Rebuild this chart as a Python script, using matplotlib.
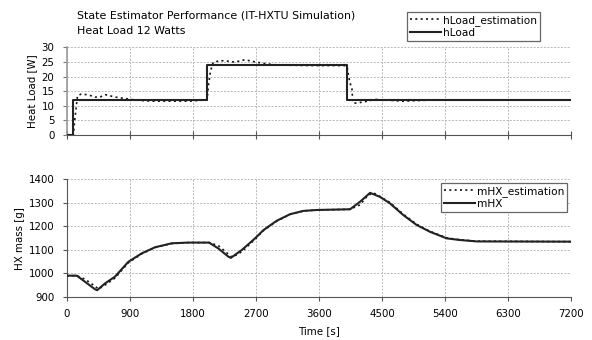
import matplotlib.pyplot as plt

# heat load (W) - step input and its estimate
t_load = [0, 90, 2000, 4000, 7200]
hload = [0, 12, 24, 12, 12]

t_load_est = [0, 90, 110, 150, 200, 300, 400, 470, 550, 690, 830, 970, 1200, 1750,
              1950, 2000, 2020, 2050, 2090, 2200, 2300, 2400, 2540, 2700, 2850, 3000,
              3500, 3980, 4000, 4020, 4040, 4070, 4080, 4090, 4150, 4250, 4400, 4550,
              4800, 5000, 5200, 7200]
hload_est = [0, 0, 5, 13.5, 14, 13.8, 13, 13, 13.8, 13, 12.5, 12, 11.6, 11.6,
             12, 12, 17, 22, 25, 25.5, 25.3, 25, 25.8, 25, 24.4, 24,
             23.8, 23.8, 23.6, 20.6, 18, 16, 12, 10.9, 11, 11.4, 12.2, 12,
             11.6, 11.8, 12, 12]

# HX mass (g)
t_m = [0, 140, 257, 400, 430, 543, 686, 876, 1067, 1257, 1495, 1733, 2030, 2162,
       2305, 2340, 2495, 2686, 2805, 2995, 3186, 3376, 3567, 4043, 4186, 4329,
       4471, 4614, 4805, 4995, 5186, 5424, 5614, 5852, 7200]
mhx = [990, 990, 964, 932, 928, 957, 986, 1049, 1085, 1111, 1128, 1131, 1131, 1106,
       1071, 1066, 1099, 1149, 1184, 1224, 1252, 1266, 1270, 1273, 1305, 1343,
       1326, 1298, 1248, 1206, 1177, 1149, 1142, 1136, 1135]

t_m_est = [0, 140, 257, 400, 450, 543, 686, 876, 1067, 1257, 1495, 1733, 2030, 2162,
           2305, 2360, 2495, 2686, 2805, 2995, 3186, 3376, 3567, 4043, 4186, 4300,
           4380, 4614, 4805, 4995, 5186, 5424, 5614, 5852, 7200]
mhx_est = [990, 990, 975, 945, 933, 950, 980, 1045, 1083, 1110, 1127, 1131, 1131, 1118,
           1082, 1068, 1092, 1145, 1182, 1222, 1251, 1266, 1270, 1273, 1292, 1333,
           1343, 1302, 1252, 1209, 1179, 1151, 1143, 1137, 1135]

xticks = [0, 900, 1800, 2700, 3600, 4500, 5400, 6300, 7200]

plt.rcParams['font.family'] = 'DejaVu Sans'
plt.rcParams['font.size'] = 7.4

fig = plt.figure(figsize=(5.92, 3.40), dpi=100)
ax1 = fig.add_axes([0.1132, 0.6029, 0.8514, 0.2574])
ax2 = fig.add_axes([0.1132, 0.1271, 0.8514, 0.3450])

grid_kw = dict(color='#b8b8b8', linestyle=(0, (2, 1.5)), linewidth=0.7)
est_ls = (0, (1.2, 2))

ax1.plot(t_load_est, hload_est, color='#111111', linestyle=est_ls, linewidth=1.2,
         label='hLoad_estimation', zorder=3)
ax1.plot(t_load, hload, color='#222222', linewidth=1.5, drawstyle='steps-post',
         label='hLoad', zorder=4)
ax1.set_xlim(0, 7200)
ax1.set_ylim(0, 30)
ax1.set_yticks(range(0, 31, 5))
ax1.set_xticks(xticks)
ax1.set_xticklabels([])
ax1.set_ylabel('Heat Load [W]', labelpad=3)
ax1.grid(True, **grid_kw)
ax1.spines['top'].set_visible(False)
ax1.spines['right'].set_visible(False)
ax1.spines['left'].set_color('#9a9a9a')
ax1.spines['left'].set_linewidth(1.2)
ax1.spines['bottom'].set_color('#555555')
ax1.tick_params(axis='y', length=3, color='#777777', pad=6)
ax1.tick_params(axis='x', direction='inout', length=6, color='#555555')
ax1.set_axisbelow(True)

ax2.plot(t_m_est, mhx_est, color='#111111', linestyle=est_ls, linewidth=1.2,
         label='mHX_estimation', zorder=3)
ax2.plot(t_m, mhx, color='#222222', linewidth=1.5, label='mHX', zorder=4)
ax2.set_xlim(0, 7200)
ax2.set_ylim(900, 1400)
ax2.set_yticks(range(900, 1401, 100))
ax2.set_xticks(xticks)
ax2.set_xlabel('Time [s]', labelpad=5)
ax2.set_ylabel('HX mass [g]', labelpad=3)
ax2.grid(True, **grid_kw)
ax2.spines['top'].set_visible(False)
ax2.spines['right'].set_visible(False)
ax2.spines['left'].set_color('#555555')
ax2.spines['bottom'].set_color('#555555')
ax2.tick_params(axis='y', length=3, color='#555555', pad=6)
ax2.tick_params(axis='x', length=3, color='#555555', direction='out', pad=6)
ax2.set_axisbelow(True)

leg_kw = dict(fancybox=False, framealpha=1, edgecolor='#666666', handlelength=2.9,
              handletextpad=0.2, borderpad=0.3, labelspacing=0.2, borderaxespad=0,
              fontsize=7.6)
l1 = ax1.legend(loc='upper left', bbox_to_anchor=(407 / 592, 1 - 11.5 / 340),
                bbox_transform=fig.transFigure, **leg_kw)
l1.get_frame().set_linewidth(0.9)
l2 = ax2.legend(loc='upper left', bbox_to_anchor=(441 / 592, 1 - 182.5 / 340),
                bbox_transform=fig.transFigure, **leg_kw)
l2.get_frame().set_linewidth(0.9)

fig.text(77 / 592, 1 - 16 / 340, 'State Estimator Performance (IT-HXTU Simulation)',
         va='center', ha='left', fontsize=7.9)
fig.text(77 / 592, 1 - 31 / 340, 'Heat Load 12 Watts', va='center', ha='left',
         fontsize=7.9)

fig.savefig('out.png', dpi=100)
